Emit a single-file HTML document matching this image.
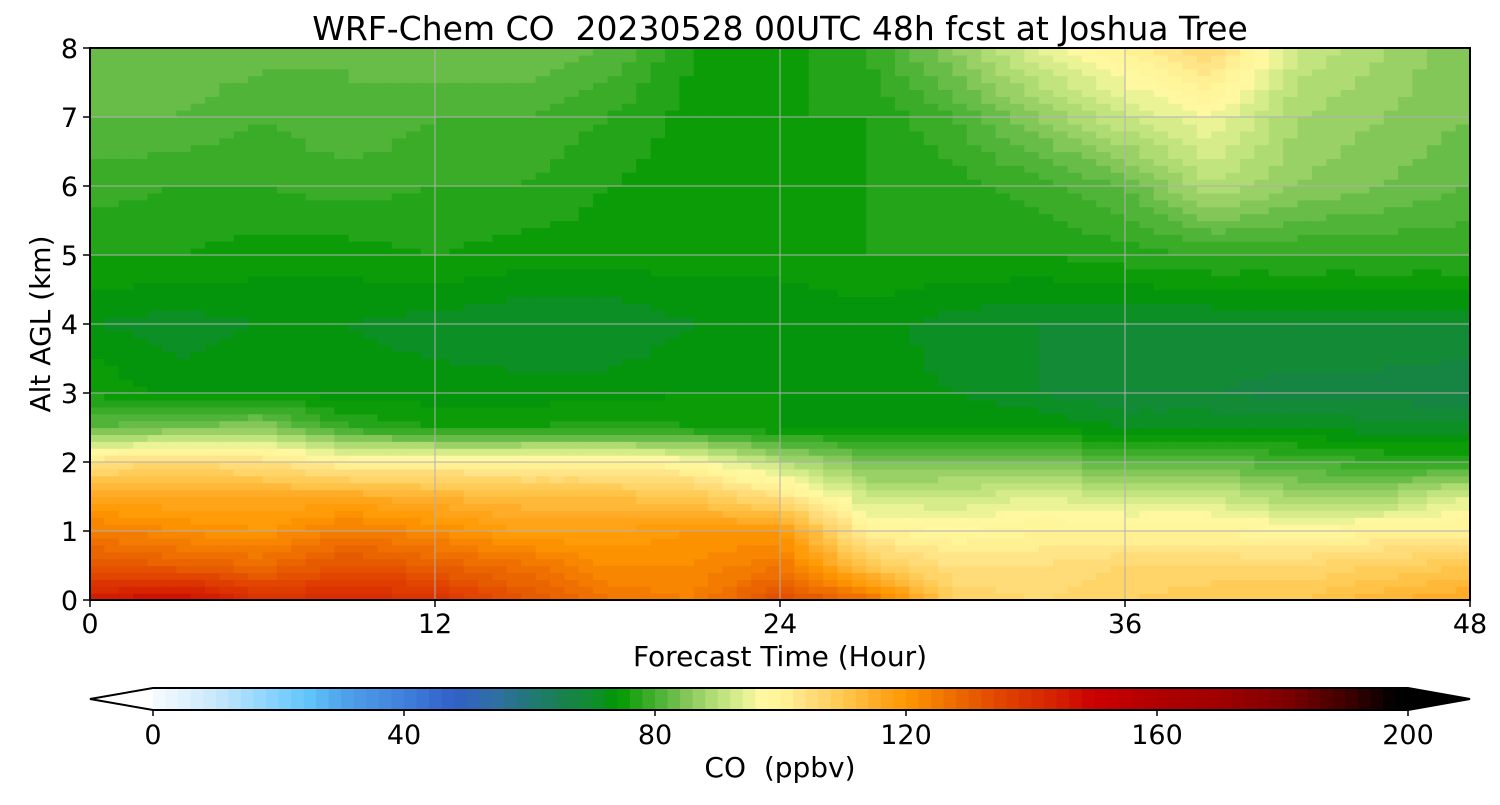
<!DOCTYPE html>
<html><head><meta charset="utf-8"><style>
body{margin:0;background:#fff;font-family:"Liberation Sans","DejaVu Sans",sans-serif}
svg text{font-family:"DejaVu Sans","Liberation Sans",sans-serif;fill:#000;white-space:pre}
</style></head><body>
<svg id="chart" width="1500" height="800" viewBox="0 0 1500 800">
<text x="780" y="40" font-size="33" text-anchor="middle" xml:space="preserve">WRF-Chem CO  20230528 00UTC 48h fcst at Joshua Tree</text>
<g id="field"></g>
<g id="grid"></g>
<rect x="90" y="48" width="1380" height="552" fill="none" stroke="#000" stroke-width="2"/>
<g id="axes"></g>
<text x="780" y="666" font-size="28" text-anchor="middle">Forecast Time (Hour)</text>
<text transform="translate(50,324) rotate(-90)" font-size="28" text-anchor="middle">Alt AGL (km)</text>
<g id="cbar"></g>
<text x="780" y="777" font-size="28" text-anchor="middle" xml:space="preserve">CO  (ppbv)</text>
</svg>
<script>
const hours=[0,3,6,9,12,15,18,21,24,27,30,33,36,39,42,45,48];
const alts=[0,0.5,1,1.5,2,2.5,3,4,5,6,7,8];
const co=[
[145,150,140,142,140,132,126,124,134,128,108,106,108,110,110,114,116],
[132,130,128,133,130,127,122,122,126,110,104,104,106,106,106,108,110],
[125,122,120,125,122,118,118,120,120,100,98,100,100,100,98,100,100],
[116,116,116,116,114,112,112,110,104,92,92,94,92,92,88,88,94],
[104,106,104,100,100,100,100,98,90,84,84,84,82,82,80,78,78],
[82,84,86,78,76,76,77,76,74,74,74,74,72,72,72,71,71],
[76,73,74,73,73,73,73,74,74,73,72,70,68,68,67,67,66],
[72,71,72,72,71,70,70,72,72,73,71,70,70,70,70,70,70],
[76,76,75,75,76,75,75,75,75,76,76,76,77,78,78,78,78],
[79,78,78,79,78,78,76,75,75,76,77,79,82,90,86,84,82],
[82,82,80,82,80,80,78,75,76,76,80,86,92,96,88,86,84],
[84,84,83,82,84,84,82,76,75,78,86,94,100,106,92,88,84]];
const xTicks=[0,12,24,36,48];
const yTicks=[0,1,2,3,4,5,6,7,8];
const cbTicks=[0,40,80,120,160,200];
const cmapV=[0,10,20,25,30,40,48,55,60,65,70,74,78,82,86,90,94,97,100,104,110,116,120,124,130,136,144,150,160,170,180,190,198];
const cmapC=["#f8fcff","#c8e8fb","#80d0ff","#60c4fa","#50a4ea","#4080dc","#3060c8","#3070a0","#207878","#1a8050","#108c30","#009800","#30a820","#5ab840","#90cc60","#b8e078","#e0f090","#fff8a0","#fff59a","#ffe080","#ffc850","#ffa820","#ff9800","#f58000","#e86000","#e04000","#d42000","#cc0000","#b00000","#a00000","#800000","#400000","#000000"];
const X=h=>90+h*1380/48, Y=a=>600-a*552/8, CB=v=>153+v*1255/200;
const NS="http://www.w3.org/2000/svg";
function hex(c){return [1,3,5].map(i=>parseInt(c.substr(i,2),16));}
function color(v){v=Math.max(0,Math.min(199.9,v));let i=0;while(i<cmapV.length-2&&v>cmapV[i+1])i++;
const t=(v-cmapV[i])/(cmapV[i+1]-cmapV[i]),a=hex(cmapC[i]),b=hex(cmapC[i+1]);
return "rgb("+a.map((x,k)=>Math.round(x+(b[k]-x)*t)).join(",")+")";}
function q(v){return Math.floor(v/2)*2+1;}
function seg(arr,v){let i=0;while(i<arr.length-2&&v>arr[i+1])i++;return [i,(v-arr[i])/(arr[i+1]-arr[i])];}
function val(h,a){const [i,s]=seg(hours,h),[j,t]=seg(alts,a);
return co[j][i]*(1-s)*(1-t)+co[j][i+1]*s*(1-t)+co[j+1][i]*(1-s)*t+co[j+1][i+1]*s*t;}
const field=document.getElementById('field');
const dh=0.5,da=0.1;
for(let h=0;h<48-1e-9;h+=dh){for(let a=0;a<8-1e-9;a+=da){
const r=document.createElementNS(NS,'rect');
r.setAttribute('x',X(h));r.setAttribute('y',Y(a+da));
r.setAttribute('width',X(h+dh)-X(h)+0.6);r.setAttribute('height',Y(a)-Y(a+da)+0.6);
r.setAttribute('fill',color(q(val(h+dh/2,a+da/2))));


field.appendChild(r);}}
const grid=document.getElementById('grid'),axes=document.getElementById('axes');
function line(g,x1,y1,x2,y2,st,w,name){const l=document.createElementNS(NS,'line');
l.setAttribute('x1',x1);l.setAttribute('y1',y1);l.setAttribute('x2',x2);l.setAttribute('y2',y2);
l.setAttribute('stroke',st);l.setAttribute('stroke-width',w);


g.appendChild(l);}
function text(g,x,y,s,anchor,name,size){const t=document.createElementNS(NS,'text');
t.setAttribute('x',x);t.setAttribute('y',y);t.setAttribute('font-size',size||27);t.setAttribute('text-anchor',anchor);t.textContent=s;


g.appendChild(t);}
xTicks.forEach(h=>{line(grid,X(h),48,X(h),600,"#b0b0b0",1,'x-grid-line');line(axes,X(h),600,X(h),607,"#000",1.5,'x-tick');text(axes,X(h),633,h,'middle','x-tick-label');});
yTicks.forEach(a=>{line(grid,90,Y(a),1470,Y(a),"#b0b0b0",1,'y-grid-line');line(axes,83,Y(a),90,Y(a),"#000",1.5,'y-tick');text(axes,78,Y(a)+10,a,'end','y-tick-label');});
const cb=document.getElementById('cbar');
for(let v=0;v<200;v+=2){const r=document.createElementNS(NS,'rect');
r.setAttribute('x',CB(v));r.setAttribute('y',688);r.setAttribute('width',CB(v+2)-CB(v)+0.5);r.setAttribute('height',22);
r.setAttribute('fill',color(v+1));


cb.appendChild(r);}
const lt=document.createElementNS(NS,'polygon');lt.setAttribute('points',`${CB(0)},688 90,699 ${CB(0)},710`);lt.setAttribute('fill','#fff');


cb.appendChild(lt);
const rt=document.createElementNS(NS,'polygon');rt.setAttribute('points',`${CB(200)},688 1470,699 ${CB(200)},710`);rt.setAttribute('fill','#000');


cb.appendChild(rt);
const ol=document.createElementNS(NS,'polygon');ol.setAttribute('points',`${CB(0)},688 ${CB(200)},688 1470,699 ${CB(200)},710 ${CB(0)},710 90,699`);ol.setAttribute('fill','none');ol.setAttribute('stroke','#000');ol.setAttribute('stroke-width',2);


cb.appendChild(ol);
cbTicks.forEach(v=>{line(cb,CB(v),710,CB(v),716,"#000",1.5,'colorbar-tick');text(cb,CB(v),744,v,'middle','colorbar-tick-label');});
</script>
</body></html>
